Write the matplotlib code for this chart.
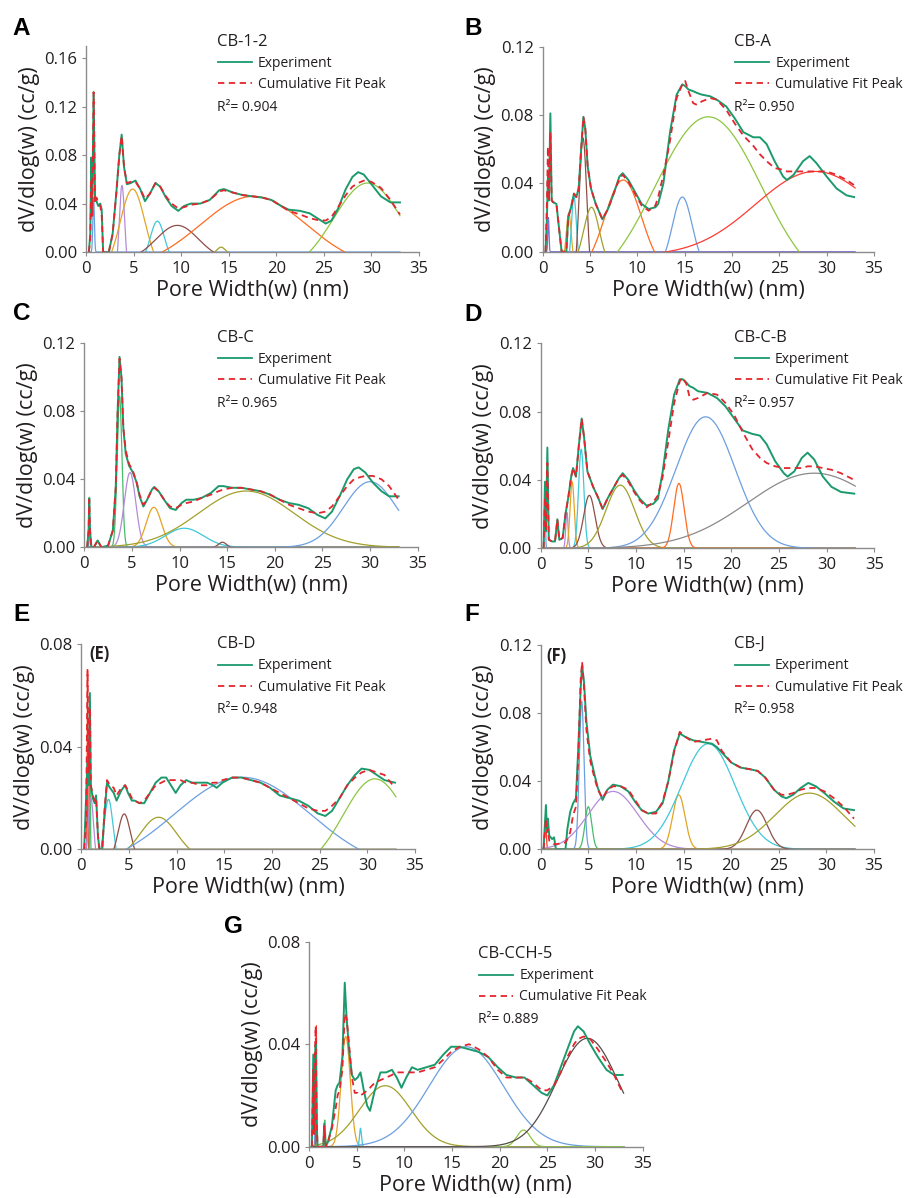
import numpy as np
import matplotlib
matplotlib.use('Agg')
import matplotlib.pyplot as plt
from matplotlib.lines import Line2D
from matplotlib.ticker import FormatStrFormatter

plt.rcParams['font.family'] = ['Open Sans', 'DejaVu Sans']

# colours
GREEN = '#1b9a6c'
RED = '#e3262d'
gold = '#e3a325'
purple = '#b48bd9'
cyan = '#3fc8d8'
brown = '#8e4f49'
orange = '#ff6b1e'
lgreen = '#8dc63f'
olive = '#a3a02a'
blue = '#6c9fe0'
gray = '#8a8a8a'
red2 = '#ff3b30'
green2 = '#46bd6a'
dark = '#574a4a'
AXC = '#8c8c8c'
TXT = '#231f20'

# ---------------- data ----------------
# A  CB-1-2
xA = [0.3, 0.45, 0.55, 0.65, 0.8, 0.95, 1.1, 1.3, 1.5, 1.65, 1.8, 2.4, 2.8, 3.2, 3.5,
      3.75, 4.0, 4.3, 4.7, 5.2, 5.7, 6.2, 6.7, 7.3, 7.8, 8.4, 9.0, 9.7, 10.3, 11.0,
      12.0, 13.0, 14.0, 14.5, 15.5, 16.5, 17.5, 18.5, 19.5, 20.5, 21.3, 22.5, 23.5, 24.3, 25.2,
      25.8, 26.5, 27.3, 28.0, 28.6, 29.2, 30.0, 31.0, 32.0, 33.0]
expA = [0.0, 0.015, 0.078, 0.03, 0.132, 0.045, 0.042, 0.038, 0.040, 0.035, 0.0, 0.0, 0.015, 0.05, 0.08,
        0.097, 0.07, 0.056, 0.057, 0.059, 0.052, 0.042, 0.048, 0.057, 0.054, 0.045, 0.038, 0.034, 0.038, 0.040,
        0.040, 0.043, 0.051, 0.052, 0.049, 0.047, 0.046, 0.045, 0.043, 0.038, 0.035, 0.034, 0.032, 0.028, 0.0235,
        0.026, 0.036, 0.052, 0.062, 0.066, 0.064, 0.056, 0.046, 0.041, 0.041]
fitA = [0.0, 0.01, 0.06, 0.03, 0.132, 0.04, 0.045, 0.04, 0.038, 0.03, 0.0, 0.0, 0.015, 0.05, 0.08,
        0.096, 0.07, 0.057, 0.058, 0.058, 0.052, 0.044, 0.048, 0.057, 0.054, 0.046, 0.040, 0.036, 0.037, 0.039,
        0.040, 0.043, 0.050, 0.051, 0.049, 0.047, 0.046, 0.045, 0.043, 0.038, 0.034, 0.031, 0.028, 0.0265, 0.026,
        0.029, 0.037, 0.047, 0.054, 0.057, 0.059, 0.058, 0.053, 0.043, 0.031]
pkA_c = [0.8, 3.78, 4.9, 7.5, 9.6, 14.2, 17.6, 29.6]
pkA_h = [0.045, 0.055, 0.052, 0.0255, 0.022, 0.004, 0.046, 0.057]
pkA_w = [0.08, 0.28, 1.29, 0.73, 2.22, 0.41, 5.6, 3.57]
pkA_b = [0, -0.0165, -0.0156, -0.0077, -0.0066, -0.0012, -0.0138, -0.017]
pkA_col = [blue, purple, gold, cyan, brown, olive, orange, lgreen]

# B  CB-A
xB = [0.3, 0.45, 0.55, 0.65, 0.81, 0.95, 1.1, 1.45, 1.7, 2.0, 2.5, 2.7, 3.0, 3.3, 3.55,
      3.8, 4.05, 4.3, 4.5, 4.75, 5.1, 5.6, 6.3, 6.9, 7.5, 8.1, 8.45, 9.05, 9.75, 10.45,
      11.2, 11.9, 12.2, 12.75, 13.45, 14.15, 14.75, 15.05, 15.4, 15.9, 16.3, 16.8, 17.7, 18.4, 19.4,
      20.3, 21.2, 22.25, 22.95, 23.66, 24.5, 25.4, 25.8, 26.5, 27.5, 28.2, 28.9, 30.0, 31.05, 32.1, 32.9]
expB = [0.0, 0.02, 0.045, 0.03, 0.081, 0.03, 0.029, 0.028, 0.015, 0.0, 0.0, 0.0205, 0.026, 0.034, 0.032,
        0.037, 0.059, 0.079, 0.072, 0.05, 0.037, 0.028, 0.019, 0.025, 0.034, 0.044, 0.046, 0.042, 0.035, 0.028,
        0.025, 0.026, 0.028, 0.04, 0.07, 0.092, 0.098, 0.097, 0.095, 0.094, 0.093, 0.092, 0.091, 0.089, 0.085,
        0.078, 0.070, 0.067, 0.067, 0.063, 0.053, 0.044, 0.042, 0.045, 0.053, 0.056, 0.052, 0.044, 0.037, 0.033, 0.032]
fitB = [0.0, 0.03, 0.0615, 0.03, 0.07, 0.03, 0.029, 0.028, 0.015, 0.0, 0.0, 0.02, 0.026, 0.034, 0.032,
        0.037, 0.059, 0.079, 0.072, 0.05, 0.037, 0.028, 0.019, 0.025, 0.034, 0.043, 0.045, 0.041, 0.034, 0.027,
        0.024, 0.027, 0.032, 0.045, 0.065, 0.09, 0.098, 0.1, 0.094, 0.087, 0.086, 0.088, 0.090, 0.089, 0.083,
        0.075, 0.068, 0.062, 0.057, 0.053, 0.049, 0.048, 0.047, 0.047, 0.047, 0.047, 0.047, 0.047, 0.045, 0.042, 0.039]
pkB_c = [0.6, 2.75, 3.3, 4.25, 5.15, 8.5, 14.75, 17.5, 28.8]
pkB_h = [0.02, 0.0226, 0.032, 0.0666, 0.026, 0.042, 0.032, 0.079, 0.047]
pkB_w = [0.06, 0.26, 0.27, 0.41, 0.82, 1.93, 1.04, 5.6, 6.36]
pkB_b = [0, -0.0068, -0.0096, -0.02, -0.0078, -0.0126, -0.0096, -0.0237, -0.0024]
pkB_col = ['#7a6fd6', gold, cyan, brown, olive, orange, blue, lgreen, red2]

# C  CB-C
xC = [0.3, 0.45, 0.52, 0.6, 0.75, 1.0, 1.4, 1.8, 2.5, 3.0, 3.3, 3.5, 3.7, 3.9, 4.1,
      4.35, 4.7, 5.1, 5.5, 5.8, 6.2, 6.6, 7.1, 7.35, 7.8, 8.5, 9.0, 9.6, 10.2, 10.7,
      11.5, 12.3, 13.3, 14.1, 14.6, 15.5, 16.5, 17.5, 18.5, 19.5, 20.5, 21.5, 22.5, 23.5, 24.5,
      25.3, 26.0, 26.8, 27.6, 28.3, 28.8, 29.5, 30.3, 31.2, 32.0, 33.0]
expC = [0.0, 0.01, 0.029, 0.01, 0.0, 0.0, 0.004, 0.0, 0.001, 0.01, 0.035, 0.08, 0.112, 0.10, 0.07,
        0.055, 0.048, 0.044, 0.038, 0.030, 0.024, 0.028, 0.034, 0.0355, 0.033, 0.027, 0.023, 0.022, 0.026, 0.028,
        0.028, 0.029, 0.032, 0.036, 0.036, 0.035, 0.035, 0.034, 0.033, 0.031, 0.028, 0.026, 0.025, 0.023, 0.019,
        0.017, 0.021, 0.030, 0.040, 0.046, 0.047, 0.044, 0.038, 0.033, 0.030, 0.030]
fitC = [0.0, 0.01, 0.028, 0.01, 0.0, 0.0, 0.004, 0.0, 0.001, 0.01, 0.035, 0.08, 0.111, 0.10, 0.07,
        0.057, 0.049, 0.045, 0.038, 0.031, 0.025, 0.028, 0.034, 0.035, 0.033, 0.027, 0.024, 0.023, 0.025, 0.026,
        0.027, 0.029, 0.031, 0.033, 0.034, 0.035, 0.035, 0.034, 0.033, 0.031, 0.028, 0.025, 0.023, 0.021, 0.020,
        0.021, 0.024, 0.030, 0.036, 0.040, 0.041, 0.042, 0.042, 0.040, 0.036, 0.028]
pkC_c = [0.55, 1.4, 3.7, 4.8, 7.3, 10.5, 14.5, 17.0, 30.0]
pkC_h = [0.011, 0.004, 0.089, 0.044, 0.0235, 0.0112, 0.003, 0.0331, 0.0386]
pkC_w = [0.05, 0.15, 0.25, 0.6, 0.8, 2.0, 0.4, 5.0, 2.8]
pkC_b = [0, 0, 0, 0, 0, 0, 0, 0, 0]
pkC_col = [blue, lgreen, green2, purple, gold, cyan, brown, olive, blue]

# D  CB-C-B
xD = [0.3, 0.45, 0.55, 0.7, 0.85, 1.2, 1.5, 1.75, 1.95, 2.3, 2.6, 2.9, 3.2, 3.4, 3.7,
      4.0, 4.3, 4.55, 4.9, 5.5, 6.0, 6.5, 7.0, 7.6, 8.2, 8.6, 9.2, 9.8, 10.4, 11.1,
      11.8, 12.3, 12.8, 13.4, 14.0, 14.6, 14.9, 15.3, 15.6, 16.0, 16.5, 17.5, 18.5, 19.4, 20.3,
      21.2, 22.2, 23.0, 23.7, 24.6, 25.5, 25.9, 26.6, 27.4, 28.0, 28.7, 29.6, 30.5, 31.5, 32.9]
expD = [0.0, 0.039, 0.01, 0.059, 0.005, 0.004, 0.004, 0.017, 0.005, 0.006, 0.02, 0.03, 0.042, 0.047, 0.042,
        0.06, 0.076, 0.065, 0.045, 0.036, 0.030, 0.023, 0.029, 0.035, 0.041, 0.044, 0.040, 0.034, 0.029, 0.025,
        0.026, 0.029, 0.045, 0.07, 0.09, 0.099, 0.099, 0.097, 0.095, 0.094, 0.092, 0.091, 0.088, 0.083, 0.076,
        0.069, 0.067, 0.066, 0.061, 0.051, 0.044, 0.042, 0.045, 0.053, 0.056, 0.052, 0.042, 0.036, 0.033, 0.032]
fitD = [0.0, 0.03, 0.01, 0.05, 0.005, 0.004, 0.004, 0.017, 0.005, 0.006, 0.02, 0.03, 0.042, 0.047, 0.042,
        0.06, 0.076, 0.065, 0.045, 0.036, 0.030, 0.023, 0.029, 0.035, 0.041, 0.043, 0.039, 0.033, 0.028, 0.024,
        0.027, 0.031, 0.042, 0.063, 0.085, 0.098, 0.1, 0.096, 0.089, 0.087, 0.088, 0.091, 0.090, 0.085, 0.078,
        0.068, 0.058, 0.053, 0.050, 0.048, 0.047, 0.047, 0.047, 0.047, 0.048, 0.048, 0.047, 0.046, 0.044, 0.040]
pkD_c = [0.45, 2.75, 3.3, 4.25, 5.1, 8.35, 14.5, 17.3, 28.7]
pkD_h = [0.03, 0.021, 0.039, 0.058, 0.031, 0.037, 0.038, 0.077, 0.044]
pkD_w = [0.05, 0.12, 0.22, 0.28, 0.6, 1.5, 0.55, 3.1, 7.0]
pkD_b = [0, 0, 0, 0, 0, 0, 0, 0, 0]
pkD_col = [blue, purple, gold, cyan, brown, olive, orange, blue, gray]

# E  CB-D
xE = [0.3, 0.5, 0.65, 0.78, 0.9, 1.0, 1.2, 1.4, 1.55, 1.75, 1.9, 2.2, 2.45, 2.7, 3.0,
      3.4, 3.7, 4.2, 4.6, 4.9, 5.3, 5.6, 6.1, 6.6, 7.2, 7.8, 8.4, 8.9, 9.4, 9.9,
      10.4, 11.0, 11.6, 12.5, 13.2, 13.8, 14.2, 14.8, 15.8, 16.8, 17.8, 18.8, 19.8, 20.8, 21.8,
      22.8, 23.8, 24.8, 25.6, 26.3, 27.1, 27.9, 28.7, 29.4, 30.2, 31.0, 31.8, 32.9]
expE = [0.0, 0.02, 0.035, 0.025, 0.061, 0.025, 0.02, 0.018, 0.021, 0.005, 0.0, 0.0, 0.015, 0.026, 0.024,
        0.022, 0.019, 0.023, 0.025, 0.022, 0.019, 0.019, 0.018, 0.018, 0.022, 0.026, 0.028, 0.028, 0.025, 0.022,
        0.025, 0.027, 0.026, 0.026, 0.026, 0.025, 0.024, 0.026, 0.028, 0.028, 0.027, 0.026, 0.024, 0.021, 0.020,
        0.019, 0.017, 0.014, 0.013, 0.015, 0.020, 0.025, 0.029, 0.0315, 0.031, 0.029, 0.027, 0.026]
fitE = [0.0, 0.01, 0.07, 0.03, 0.055, 0.025, 0.021, 0.019, 0.02, 0.005, 0.0, 0.0, 0.016, 0.027, 0.025,
        0.024, 0.021, 0.024, 0.025, 0.023, 0.020, 0.019, 0.018, 0.019, 0.022, 0.025, 0.026, 0.027, 0.027, 0.027,
        0.027, 0.026, 0.026, 0.025, 0.025, 0.026, 0.026, 0.027, 0.028, 0.028, 0.027, 0.026, 0.024, 0.022, 0.020,
        0.018, 0.016, 0.015, 0.015, 0.017, 0.020, 0.025, 0.028, 0.030, 0.031, 0.030, 0.029, 0.024]
pkE_c = [0.65, 0.92, 1.0, 2.85, 4.5, 8.1, 16.9, 30.8]
pkE_h = [0.07, 0.058, 0.02, 0.0195, 0.0138, 0.0125, 0.0281, 0.0275]
pkE_w = [0.035, 0.03, 0.29, 0.47, 0.64, 1.93, 7.13, 3.33]
pkE_b = [0, 0, -0.006, -0.0059, -0.0041, -0.0038, -0.0084, -0.0083]
pkE_col = [red2, green2, purple, cyan, brown, olive, blue, lgreen]

# F  CB-J
xF = [0.3, 0.55, 0.65, 0.75, 0.9, 1.2, 1.4, 1.6, 2.6, 2.8, 3.1, 3.4, 3.7, 3.95, 4.2,
      4.35, 4.55, 4.8, 5.2, 5.6, 6.0, 6.5, 7.0, 7.6, 8.4, 9.2, 9.9, 10.6, 11.3, 12.1,
      12.8, 13.4, 14.0, 14.6, 15.2, 16.0, 17.0, 18.0, 18.5, 19.0, 20.0, 21.0, 22.0, 22.8, 23.6,
      24.5, 25.3, 25.8, 26.5, 27.3, 28.1, 28.9, 29.8, 30.8, 31.8, 32.9]
expF = [0.0, 0.026, 0.012, 0.018, 0.008, 0.006, 0.007, 0.0, 0.0, 0.012, 0.022, 0.027, 0.030, 0.06, 0.095,
        0.108, 0.098, 0.075, 0.055, 0.045, 0.036, 0.029, 0.035, 0.038, 0.037, 0.034, 0.028, 0.023, 0.021, 0.022,
        0.027, 0.040, 0.058, 0.068, 0.066, 0.064, 0.063, 0.062, 0.060, 0.057, 0.051, 0.048, 0.047, 0.046, 0.042,
        0.035, 0.031, 0.030, 0.032, 0.036, 0.039, 0.037, 0.033, 0.028, 0.024, 0.023]
fitF = [0.0, 0.018, 0.01, 0.012, 0.005, 0.004, 0.003, 0.003, 0.004, 0.006, 0.01, 0.02, 0.025, 0.055, 0.1,
        0.11, 0.095, 0.07, 0.052, 0.043, 0.035, 0.030, 0.035, 0.037, 0.037, 0.035, 0.029, 0.023, 0.021, 0.021,
        0.028, 0.040, 0.057, 0.069, 0.066, 0.063, 0.064, 0.065, 0.064, 0.058, 0.051, 0.048, 0.047, 0.046, 0.042,
        0.035, 0.032, 0.032, 0.033, 0.035, 0.036, 0.036, 0.034, 0.030, 0.025, 0.018]
pkF_c = [0.5, 4.3, 5.0, 7.6, 14.5, 17.6, 22.7, 28.2]
pkF_h = [0.018, 0.087, 0.025, 0.034, 0.032, 0.062, 0.023, 0.033]
pkF_w = [0.08, 0.25, 0.35, 2.6, 0.65, 2.8, 1.1, 3.6]
pkF_b = [0, 0, 0, 0, 0, 0, 0, 0]
pkF_col = [red2, blue, green2, purple, gold, cyan, brown, olive]

# G  CB-CCH-5
xG = [0.3, 0.45, 0.55, 0.62, 0.7, 0.8, 0.9, 1.2, 1.5, 1.6, 1.75, 2.0, 2.4, 2.8, 3.0,
      3.2, 3.5, 3.75, 3.95, 4.2, 4.5, 4.8, 5.1, 5.4, 5.8, 6.1, 6.4, 6.9, 7.5, 8.1,
      8.7, 9.2, 9.7, 10.2, 10.8, 11.4, 12.3, 13.2, 14.1, 14.9, 15.8, 16.8, 17.8, 18.8, 19.8,
      20.7, 21.7, 22.6, 23.5, 24.4, 25.0, 25.7, 26.4, 27.1, 27.8, 28.2, 28.8, 29.5, 30.3, 31.2, 32.0, 32.9]
expG = [0.0, 0.036, 0.005, 0.03, 0.04, 0.01, 0.0, 0.0, 0.0, 0.009, 0.0, 0.002, 0.008, 0.022, 0.024,
        0.025, 0.035, 0.064, 0.05, 0.038, 0.028, 0.026, 0.027, 0.029, 0.021, 0.016, 0.014, 0.022, 0.029, 0.029,
        0.030, 0.027, 0.023, 0.027, 0.031, 0.030, 0.031, 0.032, 0.036, 0.039, 0.039, 0.038, 0.037, 0.035, 0.031,
        0.028, 0.027, 0.027, 0.024, 0.021, 0.020, 0.024, 0.031, 0.038, 0.045, 0.047, 0.045, 0.040, 0.035, 0.030, 0.028, 0.028]
fitG = [0.0, 0.03, 0.005, 0.035, 0.047, 0.01, 0.0, 0.0, 0.0, 0.008, 0.0, 0.002, 0.007, 0.015, 0.02,
        0.022, 0.03, 0.052, 0.05, 0.04, 0.027, 0.021, 0.021, 0.02, 0.021, 0.022, 0.023, 0.025, 0.026, 0.027,
        0.028, 0.029, 0.029, 0.029, 0.029, 0.029, 0.030, 0.031, 0.034, 0.037, 0.039, 0.040, 0.038, 0.035, 0.030,
        0.027, 0.027, 0.027, 0.025, 0.022, 0.022, 0.024, 0.029, 0.035, 0.040, 0.042, 0.043, 0.042, 0.038, 0.033, 0.028, 0.021]
pkG_c = [0.7, 0.77, 1.65, 3.85, 5.4, 8.0, 16.5, 22.5, 29.2]
pkG_h = [0.03, 0.0475, 0.0104, 0.043, 0.0072, 0.0238, 0.039, 0.0065, 0.0423]
pkG_w = [0.05, 0.035, 0.06, 0.48, 0.1, 2.7, 3.9, 0.7, 3.2]
pkG_b = [0, 0, 0, 0, 0, 0, 0, 0, 0]
pkG_col = [blue, red2, green2, gold, cyan, olive, blue, lgreen, dark]

names = ['CB-1-2', 'CB-A', 'CB-C', 'CB-C-B', 'CB-D', 'CB-J', 'CB-CCH-5']
r2 = ['0.904', '0.950', '0.965', '0.957', '0.948', '0.958', '0.889']
letters = ['A', 'B', 'C', 'D', 'E', 'F', 'G']
ymaxs = [0.17, 0.12, 0.12, 0.12, 0.08, 0.12, 0.08]
ytick_sets = [[0, 0.04, 0.08, 0.12, 0.16], [0, 0.04, 0.08, 0.12], [0, 0.04, 0.08, 0.12],
              [0, 0.04, 0.08, 0.12], [0, 0.04, 0.08], [0, 0.04, 0.08, 0.12], [0, 0.04, 0.08]]

# ---------------- layout (pixels in a 905x1198 canvas) ----------------
W, H = 905, 1198
fig = plt.figure(figsize=(W / 100, H / 100), dpi=100)

def fx(x):
    return x / W

def fy(y):
    return 1 - y / H

# axes: left px, bottom px (y of zero), width px
ax_px = [(86, 252, 333), (542.7, 251.7, 331.3), (84.3, 547.3, 333.4), (540.7, 548.3, 333.6),
         (81.3, 849.3, 333.7), (540.7, 849.3, 333.3), (309, 1146.7, 333.7)]
# px per 0.04 for each panel
px_per04 = [48.4, 68.3, 68.0, 68.3, 102.5, 68.1, 102.5]
letter_pos = [(12.7, 35), (464, 35), (12.7, 320), (464, 320.7), (13.3, 620.7), (464, 620.7), (224, 933)]
legend_pos = [(217, 45.7), (734.3, 45.7), (217, 341.7), (734, 341.7), (217, 648.3), (734, 648.3), (478.3, 958)]
inner_lbl = {4: (89.3, 659, '(E)'), 5: (546.7, 660.7, '(F)')}

panels = [
    (xA, expA, fitA, pkA_c, pkA_h, pkA_w, pkA_b, pkA_col),
    (xB, expB, fitB, pkB_c, pkB_h, pkB_w, pkB_b, pkB_col),
    (xC, expC, fitC, pkC_c, pkC_h, pkC_w, pkC_b, pkC_col),
    (xD, expD, fitD, pkD_c, pkD_h, pkD_w, pkD_b, pkD_col),
    (xE, expE, fitE, pkE_c, pkE_h, pkE_w, pkE_b, pkE_col),
    (xF, expF, fitF, pkF_c, pkF_h, pkF_w, pkF_b, pkF_col),
    (xG, expG, fitG, pkG_c, pkG_h, pkG_w, pkG_b, pkG_col),
]

DASH = (0, (3.5, 2.5))


def fit_peak(xx, c, h, w, b):
    # gaussian component, baseline b (negative ones get cut by the axis)
    return (h - b) * np.exp(-(xx - c) ** 2 / (2 * w ** 2)) + b


def draw_panel(i):
    x, ex, ft, pc, ph, pw, pb, pcol = panels[i]
    left, zero_y, width = ax_px[i]
    height = px_per04[i] * ymaxs[i] / 0.04
    ax = fig.add_axes([fx(left), fy(zero_y), width / W, height / H])

    xx = np.linspace(0.25, 33, 3000)
    for c, h, w, b, col in zip(pc, ph, pw, pb, pcol):
        ax.plot(xx, fit_peak(xx, c, h, w, b), color=col, lw=0.9)
    ax.plot(x, ex, color=GREEN, lw=1.4)
    ax.plot(x, ft, color=RED, lw=1.3, ls=DASH)

    ax.set_xlim(0, 35)
    ax.set_ylim(0, ymaxs[i])
    ax.set_xticks(range(0, 36, 5))
    ax.set_yticks(ytick_sets[i])
    ax.yaxis.set_major_formatter(FormatStrFormatter('%.2f'))
    for s in ['top', 'right']:
        ax.spines[s].set_visible(False)
    for s in ['left', 'bottom']:
        ax.spines[s].set_color(AXC)
        ax.spines[s].set_linewidth(1.0)
    ax.tick_params(direction='out', length=3, width=0.8, color=AXC, labelsize=12,
                   labelcolor=TXT, pad=3.5)
    ax.set_xlabel('Pore Width(w) (nm)', fontsize=15.5, color=TXT, labelpad=2)
    ax.set_ylabel('dV/dlog(w) (cc/g)', fontsize=15.5, color=TXT, labelpad=3)

    # panel letter
    lx, ly = letter_pos[i]
    fig.text(fx(lx), fy(ly), letters[i], fontsize=17.5, fontweight='bold',
             family='Liberation Sans', va='baseline', color='black')

    # legend block
    gx, gb = legend_pos[i]
    fig.text(fx(gx), fy(gb), names[i], fontsize=12, va='baseline', color=TXT)
    fig.add_artist(Line2D([fx(gx + 1), fx(gx + 35)], [fy(gb + 16.5)] * 2, color=GREEN, lw=1.3))
    fig.text(fx(gx + 41), fy(gb + 21), 'Experiment', fontsize=10, va='baseline', color=TXT)
    fig.add_artist(Line2D([fx(gx + 1), fx(gx + 35)], [fy(gb + 37.5)] * 2, color=RED, lw=1.3, ls=DASH))
    fig.text(fx(gx + 41), fy(gb + 42.5), 'Cumulative Fit Peak', fontsize=10, va='baseline', color=TXT)
    fig.text(fx(gx), fy(gb + 65), 'R²= ' + r2[i], fontsize=10, va='baseline', color=TXT)

    if i in inner_lbl:
        tx, ty, t = inner_lbl[i]
        fig.text(fx(tx), fy(ty), t, fontsize=12, fontweight='bold', va='baseline', color=TXT)
    return ax


for i in range(7):
    draw_panel(i)

fig.savefig('out.png', dpi=100)
